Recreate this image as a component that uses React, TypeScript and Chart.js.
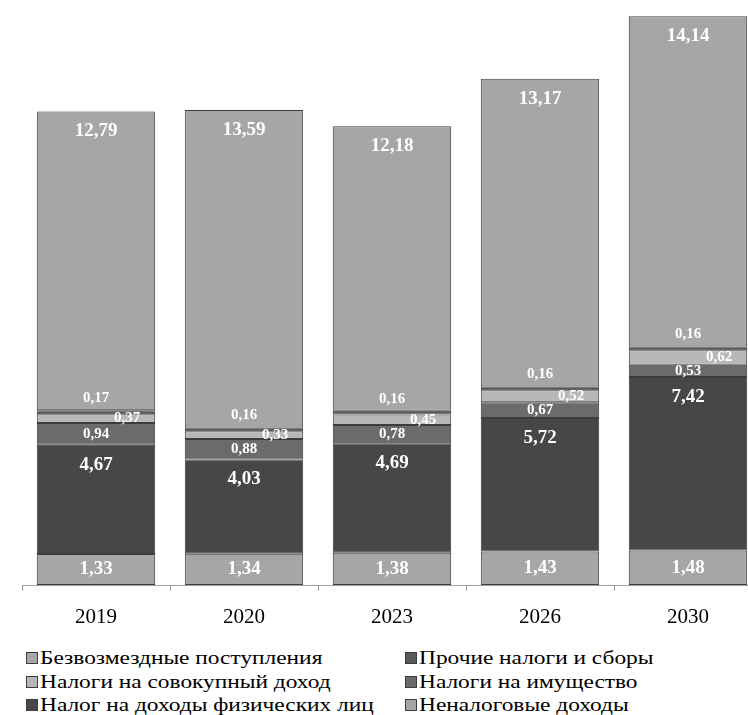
import React, { useEffect, useRef } from "react";
import { Chart, registerables } from "chart.js";

Chart.register(...registerables);

const categories = ["2019", "2020", "2023", "2026", "2030"];
const nonTax = [1.33, 1.34, 1.38, 1.43, 1.48];
const ndfl = [4.67, 4.03, 4.69, 5.72, 7.42];
const property = [0.94, 0.88, 0.78, 0.67, 0.53];
const aggregate = [0.37, 0.33, 0.45, 0.52, 0.62];
const other = [0.17, 0.16, 0.16, 0.16, 0.16];
const grants = [12.79, 13.59, 12.18, 13.17, 14.14];

const seriesNames = [
  "Неналоговые доходы",
  "Налог на доходы физических лиц",
  "Налоги на имущество",
  "Налоги на совокупный доход",
  "Прочие налоги и сборы",
  "Безвозмездные поступления",
];
const seriesValues = [nonTax, ndfl, property, aggregate, other, grants];
const seriesColors = ["#a6a6a6", "#474747", "#6b6b6b", "#b8b8b8", "#5a5a5a", "#a6a6a6"];
// label placement mode per series
const labelModes = ["mid", "top", "mid", "side", "above", "top"];
const labelSizes = [19, 19, 15, 15, 15, 19];

const SERIF = '"Liberation Serif", "Times New Roman", Tinos, serif';

const fmt = (v: number) => v.toFixed(2).replace(".", ",");

const labelPlugin = {
  id: "segLabels",
  afterDatasetsDraw(chart: any) {
    const ctx = chart.ctx;
    chart.data.datasets.forEach((ds: any, di: number) => {
      const meta = chart.getDatasetMeta(di);
      const mode = labelModes[di];
      ctx.save();
      ctx.fillStyle = "#ffffff";
      ctx.font = `bold ${labelSizes[di]}px ${SERIF}`;
      ctx.textAlign = "center";
      ctx.textBaseline = "middle";
      meta.data.forEach((el: any, i: number) => {
        const v = ds.data[i];
        const top = el.y;
        const bottom = el.base;
        let x = el.x;
        let y = (top + bottom) / 2;
        if (mode === "top") y = top + 20;
        else if (mode === "above") y = top - 12;
        else if (mode === "side") x = el.x + 31;
        ctx.fillText(fmt(v), x, y);
      });
      ctx.restore();
    });
  },
};

export default function App() {
  const ref = useRef<HTMLCanvasElement | null>(null);
  useEffect(() => {
    if (!ref.current) return;
    const chart = new Chart(ref.current, {
      type: "bar",
      data: {
        labels: categories,
        datasets: seriesNames.map((name, i) => ({
          label: name,
          data: seriesValues[i],
          backgroundColor: seriesColors[i],
          borderColor: "#3c3c3c",
          borderWidth: 1,
          borderSkipped: false,
          barPercentage: 0.8,
          categoryPercentage: 1,
        })),
      },
      options: {
        responsive: false,
        animation: false,
        devicePixelRatio: 1,
        layout: { padding: { left: 22, right: 38, top: 1, bottom: 0 } },
        plugins: { legend: { display: false }, tooltip: { enabled: false } },
        scales: {
          x: {
            stacked: true,
            offset: true,
            grid: {
              offset: true,
              drawOnChartArea: false,
              drawTicks: true,
              tickLength: 6,
              color: "#a0a0a0",
            },
            border: { display: true, color: "#a0a0a0" },
            ticks: {
              color: "#000000",
              font: { family: SERIF, size: 21 },
              padding: 14,
            },
            afterFit: (scale: any) => {
              scale.height = 45;
            },
          },
          y: {
            stacked: true,
            display: false,
            min: 0,
            max: 25,
          },
        },
      },
      plugins: [labelPlugin],
    });
    return () => chart.destroy();
  }, []);

  const legendOrder = seriesNames.map((n, i) => i).reverse();

  return (
    <div
      style={{
        position: "absolute",
        left: 0,
        top: 0,
        width: 748,
        height: 715,
        overflow: "hidden",
        background: "#ffffff",
      }}
    >
      <canvas ref={ref} width={800} height={630} style={{ width: 800, height: 630, display: "block" }} />
      {legendOrder.map((si, k) => {
        const row = Math.floor(k / 2);
        const col = k % 2;
        return (
          <div
            key={si}
            style={{
              position: "absolute",
              left: col === 0 ? 26 : 405,
              top: 646.5 + row * 23.5,
              height: 23,
              display: "flex",
              alignItems: "center",
              fontFamily: SERIF,
              fontSize: 19,
              color: "#000",
              whiteSpace: "nowrap",
            }}
          >
            <span
              style={{
                display: "inline-block",
                width: 10,
                height: 10,
                background: seriesColors[si],
                border: "1px solid #3c3c3c",
                marginRight: 2,
                flex: "none",
              }}
            />
            <span
              style={{
                display: "inline-block",
                transform: "scaleX(1.23)",
                transformOrigin: "left center",
              }}
            >
              {seriesNames[si]}
            </span>
          </div>
        );
      })}
    </div>
  );
}
